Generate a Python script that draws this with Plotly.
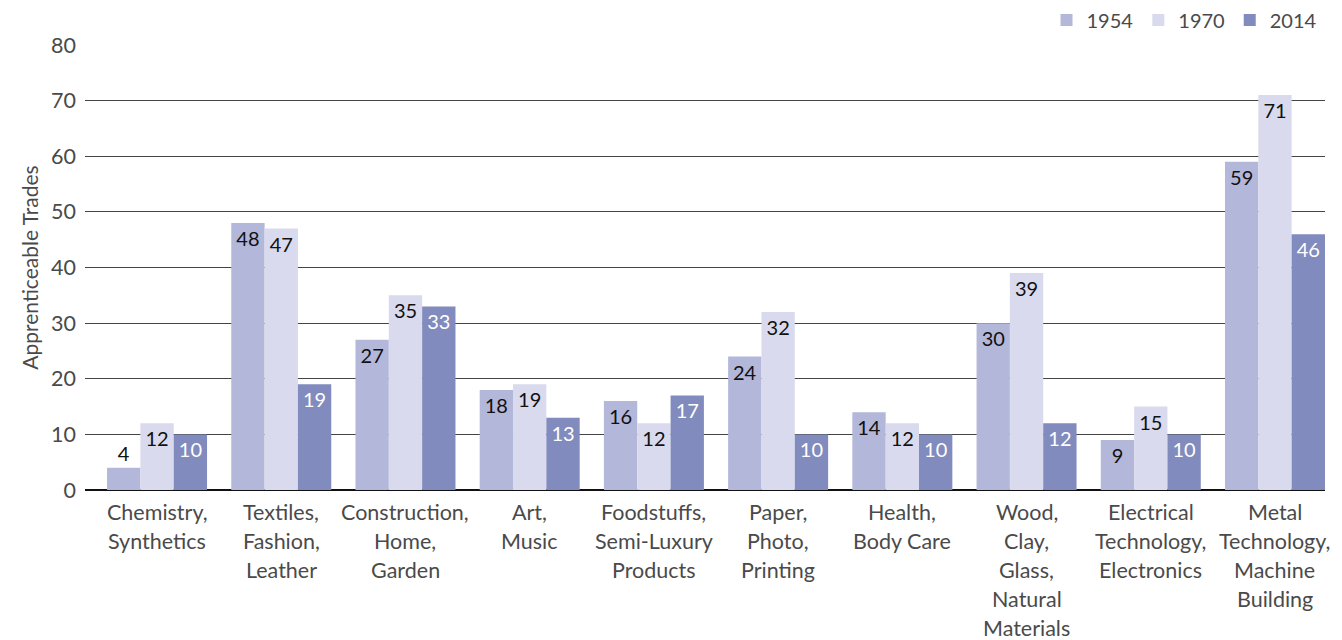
import plotly.graph_objects as go

categories = [
    "Chemistry,<br>Synthetics",
    "Textiles,<br>Fashion,<br>Leather",
    "Construction,<br>Home,<br>Garden",
    "Art,<br>Music",
    "Foodstuffs,<br>Semi-Luxury<br>Products",
    "Paper,<br>Photo,<br>Printing",
    "Health,<br>Body Care",
    "Wood,<br>Clay,<br>Glass,<br>Natural<br>Materials",
    "Electrical<br>Technology,<br>Electronics",
    "Metal<br>Technology,<br>Machine<br>Building",
]
years = ["1954", "1970", "2014"]
v1954 = [4, 48, 27, 18, 16, 24, 14, 30, 9, 59]
v1970 = [12, 47, 35, 19, 12, 32, 12, 39, 15, 71]
v2014 = [10, 19, 33, 13, 17, 10, 10, 12, 10, 46]
colors = ["#b3b7d9", "#d9daed", "#818bbd"]
text_colors = ["#111111", "#111111", "#ffffff"]

FONT = "Lato"
GREY = "#4a4a4a"
idx = list(range(len(categories)))

fig = go.Figure()
for name, vals, col, tc in zip(years, [v1954, v1970, v2014], colors, text_colors):
    pos = ["outside" if v < 6 else "inside" for v in vals]
    fig.add_trace(go.Bar(
        name=name, x=idx, y=vals, marker=dict(color=col, line=dict(width=0)),
        text=[str(v) for v in vals], textposition=pos, insidetextanchor="end",
        textfont=dict(family=FONT, size=20, color=tc),
        outsidetextfont=dict(family=FONT, size=20, color="#111111"),
        constraintext="none", cliponaxis=False,
    ))

# category labels, one annotation per line
for i, cat in enumerate(categories):
    for j, line in enumerate(cat.split("<br>")):
        fig.add_annotation(x=i, y=0, xref="x", yref="y", text=line, showarrow=False,
                           yanchor="middle", xanchor="center", yshift=-22 - 28.9 * j,
                           font=dict(family=FONT, size=21.5, color=GREY))

# page body has an 8px margin, so the figure is sized/offset to compensate
fig.update_layout(
    width=1334, height=632,
    margin=dict(l=77, r=17, t=37, b=150, autoexpand=False),
    paper_bgcolor="white", plot_bgcolor="white",
    barmode="group", bargap=0.195, bargroupgap=0,
    font=dict(family=FONT, size=20, color=GREY),
    legend=dict(orientation="h", x=0.998, xanchor="right", xref="paper",
                y=1.056, yanchor="middle", yref="paper",
                font=dict(family=FONT, size=20, color=GREY),
                itemwidth=30, traceorder="normal"),
    xaxis=dict(range=[-0.58, 9.4026], showticklabels=False, showgrid=False,
               zeroline=False, showline=False, ticks=""),
    yaxis=dict(range=[0, 80], dtick=10, showgrid=True, gridcolor="#444444", gridwidth=1,
               zeroline=True, zerolinecolor="#111111", zerolinewidth=2,
               tickfont=dict(family=FONT, size=21.5, color=GREY),
               ticklabelstandoff=8,
               title=dict(text="Apprenticeable Trades", standoff=6,
                          font=dict(family=FONT, size=21, color=GREY))),
)

fig.write_html("out.html")
